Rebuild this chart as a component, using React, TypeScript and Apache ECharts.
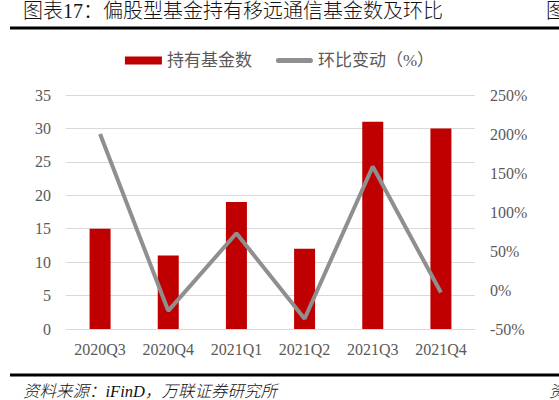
import React, { useEffect, useRef } from 'react';
import * as echarts from 'echarts';

const quarters = ['2020Q3', '2020Q4', '2021Q1', '2021Q2', '2021Q3', '2021Q4'];
const fundCount = [15, 11, 19, 12, 31, 30];
const qoqChange = [200, -26.7, 72.7, -36.8, 158.3, -3.2];

const titleText = '图表17：偏股型基金持有移远通信基金数及环比';
const sourceText = '资料来源：iFinD，万联证券研究所';

const serif = '"Liberation Serif", "Noto Sans CJK SC", serif';
const grey = '#595959';
const lineGrey = '#8f8f8f';

// thin rounded bar used as the legend icon of the line series
const lineIcon = 'path://M2.5,0 L34.5,0 A2.5,2.5 0 0 1 34.5,5 L2.5,5 A2.5,2.5 0 0 1 2.5,0 Z';

export default function App() {
  const elRef = useRef<HTMLDivElement>(null);

  useEffect(() => {
    if (!elRef.current) return;
    const chart = echarts.init(elRef.current, undefined, { renderer: 'svg' });

    chart.setOption({
      animation: false,
      backgroundColor: '#fff',
      textStyle: { fontFamily: serif },
      graphic: [
        {
          type: 'text',
          left: 23,
          top: 1,
          style: { text: titleText, fontSize: 20, fontWeight: 300, fill: '#111', fontFamily: serif },
        },
        {
          type: 'text',
          left: 546,
          top: 1,
          style: { text: '图', fontSize: 20, fontWeight: 300, fill: '#111', fontFamily: serif },
        },
        {
          type: 'rect',
          shape: { x: 10, y: 26.5, width: 549, height: 3 },
          style: { fill: '#000' },
        },
        {
          type: 'rect',
          shape: { x: 10, y: 373.5, width: 549, height: 3 },
          style: { fill: '#000' },
        },
        {
          type: 'text',
          left: 23,
          top: 383,
          style: {
            text: sourceText,
            fontSize: 16.5,
            fontStyle: 'italic',
            fontWeight: 300,
            fill: '#111',
            fontFamily: serif,
          },
        },
        {
          type: 'text',
          left: 549,
          top: 383,
          style: { text: '资', fontSize: 16.5, fontStyle: 'italic', fontWeight: 300, fill: '#111', fontFamily: serif },
        },
      ],
      legend: {
        top: 47,
        left: 'center',
        itemGap: 24,
        itemWidth: 37,
        itemHeight: 8,
        symbolKeepAspect: true,
        textStyle: { fontSize: 17, color: grey, fontFamily: serif },
        data: [
          { name: '持有基金数', icon: 'rect' },
          { name: '环比变动（%）', icon: lineIcon, itemStyle: { color: lineGrey } },
        ],
      },
      grid: { left: 66, right: 84, top: 95, bottom: 71 },
      xAxis: {
        type: 'category',
        data: quarters,
        axisTick: { show: false },
        axisLine: { lineStyle: { color: '#d9d9d9' } },
        axisLabel: { color: grey, fontSize: 16, margin: 12, fontFamily: serif },
      },
      yAxis: [
        {
          type: 'value',
          min: 0,
          max: 35,
          interval: 5,
          axisLabel: { color: grey, fontSize: 16, margin: 15, fontFamily: serif },
          splitLine: { lineStyle: { color: '#d9d9d9' } },
          axisLine: { show: false },
          axisTick: { show: false },
        },
        {
          type: 'value',
          min: -50,
          max: 250,
          interval: 50,
          position: 'right',
          axisLabel: {
            color: grey,
            fontSize: 16,
            margin: 15,
            fontFamily: serif,
            formatter: '{value}%',
          },
          splitLine: { show: false },
          axisLine: { show: false },
          axisTick: { show: false },
        },
      ],
      series: [
        {
          name: '持有基金数',
          type: 'bar',
          data: fundCount,
          barWidth: 21,
          itemStyle: { color: '#c00000' },
        },
        {
          name: '环比变动（%）',
          type: 'line',
          yAxisIndex: 1,
          data: qoqChange,
          symbol: 'none',
          lineStyle: { color: lineGrey, width: 4 },
          itemStyle: { color: lineGrey },
        },
      ],
    });

    return () => chart.dispose();
  }, []);

  return (
    <div
      ref={elRef}
      style={{ position: 'fixed', left: 0, top: 0, width: 559, height: 400 }}
    />
  );
}
